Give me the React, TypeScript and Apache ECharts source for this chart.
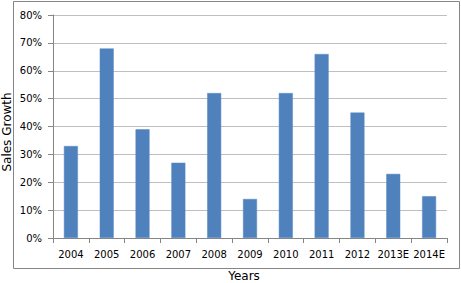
import React, { useEffect, useRef } from "react";
import * as echarts from "echarts";

const categories = ["2004", "2005", "2006", "2007", "2008", "2009", "2010", "2011", "2012", "2013E", "2014E"];
const salesGrowth = [33, 68, 39, 27, 52, 14, 52, 66, 45, 23, 15];
const xTitle = "Years";
const yTitle = "Sales Growth";

export default function App() {
  const ref = useRef<HTMLDivElement>(null);
  useEffect(() => {
    if (!ref.current) return;
    const chart = echarts.init(ref.current, null, { renderer: "svg" });
    const font = "DejaVu Sans, Verdana, sans-serif";
    chart.setOption({
      animation: false,
      backgroundColor: "#ffffff",
      graphic: [
        {
          type: "rect",
          shape: { x: 13.5, y: 1.5, width: 446, height: 267 },
          style: { fill: "none", stroke: "#868686", lineWidth: 1 },
          silent: true,
        },
        {
          type: "text",
          x: 6.5,
          y: 132,
          rotation: Math.PI / 2,
          style: { text: yTitle, fontFamily: font, fontSize: 12, fill: "#000", align: "center", verticalAlign: "middle" },
          silent: true,
        },
        {
          type: "text",
          x: 244,
          y: 276,
          style: { text: xTitle, fontFamily: font, fontSize: 12, fill: "#000", align: "center", verticalAlign: "middle" },
          silent: true,
        },
      ],
      grid: { left: 53, right: 14, top: 15, bottom: 45, containLabel: false, outerBoundsMode: "none" },
      xAxis: {
        type: "category",
        data: categories,
        axisLine: { lineStyle: { color: "#868686" } },
        axisTick: { show: true, length: 5, lineStyle: { color: "#868686" } },
        axisLabel: { fontFamily: font, fontSize: 10, color: "#000", margin: 11, interval: 0 },
      },
      yAxis: {
        type: "value",
        min: 0,
        max: 80,
        interval: 10,
        axisLine: { show: true, lineStyle: { color: "#868686" } },
        axisTick: { show: true, length: 5, lineStyle: { color: "#868686" } },
        axisLabel: { fontFamily: font, fontSize: 10, color: "#000", margin: 11, formatter: "{value}%" },
        splitLine: { lineStyle: { color: "#BFBFBF" } },
      },
      series: [
        {
          type: "bar",
          data: salesGrowth,
          barWidth: 14,
          itemStyle: { color: "#4F81BD", borderColor: "#5A8AC6", borderWidth: 0.5 },
        },
      ],
    });
    return () => chart.dispose();
  }, []);
  return <div ref={ref} style={{ position: "fixed", left: 0, top: 0, width: 461, height: 283 }} />;
}
